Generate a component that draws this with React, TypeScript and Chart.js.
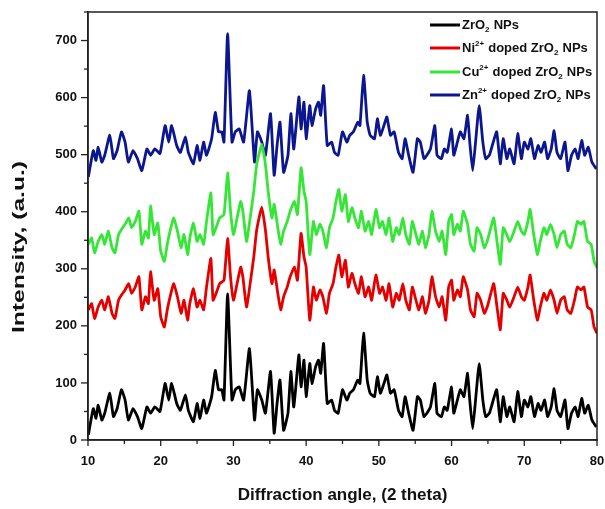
import React, { useEffect, useRef } from 'react';
import { Chart, registerables } from 'chart.js';

Chart.register(...registerables);

// ---- Data ----
const angleA = [
  10.05, 10.73, 11.1, 11.4, 11.9, 12.3, 13.0, 13.5, 14.0, 14.6,
  15.1, 15.55, 16.2, 16.8, 17.4, 18.1, 18.6, 19.2, 19.9, 20.6,
  21.1, 21.5, 22.2, 22.7, 23.4, 23.8, 24.5, 25.0, 25.4, 25.9,
  26.3, 27.0, 27.5, 27.95, 28.4, 28.7, 29.2, 29.8, 30.25, 30.8,
  31.4, 32.2, 32.9, 33.3, 33.9, 34.4, 35.1, 35.6, 36.0, 36.4,
  36.9, 37.5, 37.9, 38.3, 39.0, 39.3, 39.7, 40.0, 40.5, 40.8,
  41.3, 41.7, 42.0, 42.4, 42.9, 43.5, 43.9, 44.4, 45.0, 45.6,
  46.0, 46.5, 47.1, 47.4, 47.9, 48.4, 48.8, 49.4, 49.8, 50.2,
  50.7, 51.1, 51.6, 52.1, 52.7, 53.2, 53.6, 54.1, 54.7, 55.3,
  55.7, 56.2, 56.6, 57.1, 57.7, 58.0, 58.6, 59.0, 59.4, 60.0,
  60.3, 60.8, 61.2, 61.7, 62.2, 62.5, 62.9, 63.3, 63.8, 64.3,
  64.7, 65.2, 65.6, 66.2, 66.7, 67.1, 67.6, 68.0, 68.6, 69.1,
  69.6, 70.0, 70.5, 70.9, 71.4, 71.9, 72.3, 72.8, 73.2, 73.7,
  74.1, 74.5, 75.0, 75.6, 76.0, 76.5, 77.0, 77.4, 77.9, 78.3,
  78.8, 79.3, 79.9,
];

const zrO2 = [
  9, 55, 38, 61, 35, 47, 82, 41, 55, 88,
  70, 35, 55, 41, 20, 58, 47, 58, 50, 99,
  70, 99, 64, 52, 79, 52, 32, 64, 38, 70,
  47, 76, 122, 88, 88, 70, 256, 70, 88, 93,
  70, 160, 35, 88, 70, 47, 120, 12, 64, 105,
  17, 47, 120, 58, 149, 93, 140, 76, 134, 99,
  128, 140, 117, 169, 64, 70, 52, 47, 88, 70,
  82, 88, 105, 99, 187, 105, 82, 76, 111, 82,
  99, 114, 82, 88, 52, 41, 76, 47, 17, 76,
  70, 41, 47, 58, 99, 47, 41, 58, 52, 93,
  47, 70, 88, 76, 117, 70, 20, 70, 134, 70,
  41, 47, 64, 88, 32, 76, 41, 58, 32, 85,
  41, 70, 58, 76, 41, 64, 52, 70, 41, 58,
  90, 52, 41, 70, 20, 47, 58, 41, 73, 47,
  61, 35, 23,
];

const znDoped = [
  461, 507, 490, 513, 487, 499, 534, 493, 507, 540,
  522, 487, 507, 493, 472, 510, 499, 510, 502, 551,
  522, 551, 516, 504, 531, 504, 484, 516, 490, 522,
  499, 528, 574, 540, 540, 522, 712, 522, 540, 545,
  522, 612, 487, 540, 522, 499, 572, 464, 516, 557,
  469, 499, 572, 510, 601, 545, 592, 528, 586, 551,
  580, 592, 569, 621, 516, 522, 504, 499, 540, 522,
  534, 540, 557, 551, 639, 557, 534, 528, 563, 534,
  551, 566, 534, 540, 504, 493, 528, 499, 469, 528,
  522, 493, 499, 510, 551, 499, 493, 510, 504, 545,
  499, 522, 540, 528, 569, 522, 472, 522, 586, 522,
  493, 499, 516, 540, 484, 528, 493, 510, 484, 537,
  493, 522, 510, 528, 493, 516, 504, 522, 493, 510,
  542, 504, 493, 522, 472, 499, 510, 493, 525, 499,
  513, 487, 475,
];

const angleB = [
  10.05, 10.5, 10.9, 11.4, 11.9, 12.3, 12.8, 13.3, 13.7, 14.2,
  14.6, 15.1, 15.6, 16.0, 16.5, 17.0, 17.4, 17.9, 18.3, 18.6,
  19.1, 19.6, 20.0, 20.5, 20.9, 21.4, 21.8, 22.3, 22.8, 23.2,
  23.7, 24.0, 24.5, 25.0, 25.4, 25.9, 26.3, 26.9, 27.2, 27.7,
  28.1, 28.7, 29.2, 29.6, 30.0, 30.5, 31.0, 31.3, 31.8, 32.3,
  32.8, 33.2, 33.9, 34.4, 34.8, 35.3, 35.6, 36.1, 36.5, 36.9,
  37.4, 37.8, 38.4, 38.8, 39.3, 39.7, 40.0, 40.5, 41.0, 41.4,
  41.9, 42.3, 42.8, 43.2, 43.7, 44.1, 44.5, 44.9, 45.4, 45.8,
  46.3, 46.7, 47.2, 47.6, 48.1, 48.6, 49.0, 49.6, 50.1, 50.5,
  51.0, 51.4, 51.9, 52.4, 52.8, 53.3, 53.7, 54.2, 54.6, 55.1,
  55.5, 56.0, 56.4, 56.9, 57.3, 57.8, 58.3, 58.7, 59.2, 59.6,
  60.0, 60.3, 60.8, 61.2, 61.6, 62.2, 62.6, 63.1, 63.5, 64.0,
  64.5, 64.9, 65.4, 65.8, 66.3, 66.7, 67.1, 67.6, 68.0, 68.6,
  69.1, 69.6, 70.0, 70.5, 70.8, 71.3, 71.8, 72.2, 72.7, 73.1,
  73.6, 74.1, 74.5, 75.0, 75.5, 75.9, 76.4, 76.9, 77.3, 77.8,
  78.2, 78.7, 79.2, 79.6, 80.0,
];

const niDoped = [
  228, 239, 213, 233, 245, 228, 251, 222, 213, 245,
  254, 263, 274, 257, 268, 286, 228, 251, 239, 295,
  245, 265, 216, 198, 228, 257, 274, 251, 222, 245,
  210, 239, 265, 233, 245, 228, 268, 318, 245, 260,
  274, 280, 353, 286, 245, 274, 303, 286, 233, 274,
  321, 368, 408, 368, 318, 274, 298, 257, 228, 251,
  268, 286, 303, 280, 362, 321, 303, 210, 268, 245,
  263, 251, 222, 257, 274, 303, 324, 286, 315, 268,
  292, 274, 257, 286, 251, 268, 245, 289, 257, 268,
  245, 274, 233, 257, 245, 274, 245, 228, 268, 245,
  228, 251, 222, 245, 286, 251, 233, 251, 210, 268,
  280, 245, 263, 251, 286, 263, 228, 216, 257, 245,
  222, 233, 257, 274, 228, 193, 257, 245, 233, 251,
  268, 251, 245, 268, 289, 245, 210, 233, 257, 245,
  263, 245, 222, 245, 251, 228, 222, 245, 268, 263,
  268, 233, 228, 198, 187,
];

const cuDoped = [
  343, 354, 328, 348, 360, 343, 366, 337, 328, 360,
  369, 378, 389, 372, 383, 401, 343, 366, 354, 410,
  360, 380, 331, 313, 343, 372, 389, 366, 337, 360,
  325, 354, 380, 348, 360, 343, 383, 433, 360, 375,
  389, 395, 468, 401, 360, 389, 418, 401, 348, 389,
  436, 483, 518, 483, 433, 389, 413, 372, 343, 366,
  383, 401, 418, 395, 477, 436, 418, 325, 383, 360,
  378, 366, 337, 372, 389, 418, 439, 401, 430, 383,
  407, 389, 372, 401, 366, 383, 360, 404, 372, 383,
  360, 389, 348, 372, 360, 389, 360, 343, 383, 360,
  343, 366, 337, 360, 401, 366, 348, 366, 325, 383,
  395, 360, 378, 366, 401, 378, 343, 331, 372, 360,
  337, 348, 372, 389, 343, 308, 372, 360, 348, 366,
  383, 366, 360, 383, 404, 360, 325, 348, 372, 360,
  378, 360, 337, 360, 366, 343, 337, 360, 383, 378,
  383, 348, 343, 313, 302,
];

const seriesLabels = [
  'ZrO₂ NPs',
  'Ni²⁺ doped ZrO₂ NPs',
  'Cu²⁺ doped ZrO₂ NPs',
  'Zn²⁺ doped ZrO₂ NPs',
];
const seriesColors = ['#000000', '#e50000', '#36e636', '#0b168f'];

const xTickLabels = [10, 20, 30, 40, 50, 60, 70, 80];
const yTickLabels = [0, 100, 200, 300, 400, 500, 600, 700];
const xTitle = 'Diffraction angle, (2 theta)';
const yTitle = 'Intensity, (a.u.)';

const FONT = '"Liberation Sans", Arial, Helvetica, sans-serif';

function toPoints(xs: number[], ys: number[]) {
  return xs.map((x, i) => ({ x, y: ys[i] }));
}

function drawRich(ctx: CanvasRenderingContext2D, text: string, x: number, y: number, size: number) {
  const segs: { s: string; kind: 'n' | 'sub' | 'sup' }[] = [];
  for (const ch of text) {
    let kind: 'n' | 'sub' | 'sup' = 'n';
    let s = ch;
    if (ch === '₂') { kind = 'sub'; s = '2'; }
    else if (ch === '²') { kind = 'sup'; s = '2'; }
    else if (ch === '⁺') { kind = 'sup'; s = '+'; }
    const last = segs[segs.length - 1];
    if (last && last.kind === kind) last.s += s;
    else segs.push({ s, kind });
  }
  let cx = x;
  ctx.textBaseline = 'middle';
  ctx.textAlign = 'left';
  for (const seg of segs) {
    const fs = seg.kind === 'n' ? size : Math.round(size * 0.62);
    const dy = seg.kind === 'sub' ? size * 0.38 : seg.kind === 'sup' ? -size * 0.36 : 0;
    ctx.font = `bold ${fs}px ${FONT}`;
    ctx.fillText(seg.s, cx, y + dy);
    cx += ctx.measureText(seg.s).width + (seg.kind === 'n' ? 0 : 0.5);
  }
}

const decorPlugin = {
  id: 'decor',
  afterDraw(chart: any) {
    const { ctx, chartArea: a, scales } = chart;
    ctx.save();
    // frame
    ctx.strokeStyle = '#222';
    ctx.lineWidth = 1.5;
    ctx.strokeRect(a.left, a.top, a.right - a.left, a.bottom - a.top);
    // y ticks
    ctx.lineWidth = 1.3;
    scales.y.ticks.forEach((t: any) => {
      const p = scales.y.getPixelForValue(t.value);
      const len = t.value % 100 === 0 ? 7 : 4;
      ctx.beginPath();
      ctx.moveTo(a.left, p);
      ctx.lineTo(a.left - len, p);
      ctx.stroke();
    });
    // x ticks
    scales.x.ticks.forEach((t: any) => {
      const p = scales.x.getPixelForValue(t.value);
      const len = t.value % 10 === 0 ? 6 : 4;
      ctx.beginPath();
      ctx.moveTo(p, a.bottom);
      ctx.lineTo(p, a.bottom + len);
      ctx.stroke();
    });
    // y title (stretched like the reference)
    ctx.fillStyle = '#111';
    ctx.save();
    ctx.translate(19, 247);
    ctx.rotate(-Math.PI / 2);
    ctx.scale(1.45, 1);
    ctx.font = `bold 17px ${FONT}`;
    ctx.textAlign = 'center';
    ctx.textBaseline = 'middle';
    ctx.fillText(yTitle, 0, 0);
    ctx.restore();
    // legend
    const rows = [25, 48, 72, 95];
    chart.data.datasets.forEach((ds: any, i: number) => {
      const y = rows[i];
      ctx.strokeStyle = ds.borderColor;
      ctx.lineWidth = 3;
      ctx.beginPath();
      ctx.moveTo(430, y);
      ctx.lineTo(460, y);
      ctx.stroke();
      ctx.fillStyle = '#111';
      drawRich(ctx, ds.label, 462, y, 13);
    });
    ctx.restore();
  },
};

export default function App() {
  const ref = useRef<HTMLCanvasElement | null>(null);

  useEffect(() => {
    if (!ref.current) return;
    Chart.defaults.font.family = FONT;
    const chart = new Chart(ref.current, {
      type: 'line',
      data: {
        datasets: [
          { label: seriesLabels[0], data: toPoints(angleA, zrO2), borderColor: seriesColors[0] },
          { label: seriesLabels[1], data: toPoints(angleB, niDoped), borderColor: seriesColors[1] },
          { label: seriesLabels[2], data: toPoints(angleB, cuDoped), borderColor: seriesColors[2] },
          { label: seriesLabels[3], data: toPoints(angleA, znDoped), borderColor: seriesColors[3] },
        ].map((d) => ({
          ...d,
          borderWidth: 2.8,
          pointRadius: 0,
          fill: false,
          tension: 0.15,
          borderJoinStyle: 'round' as const,
        })),
      },
      options: {
        responsive: false,
        animation: false,
        layout: { padding: { top: 12, right: 8, left: 0, bottom: 0 } },
        plugins: {
          legend: { display: false },
          tooltip: { enabled: false },
        },
        scales: {
          x: {
            type: 'linear',
            min: 10,
            max: 80,
            grid: { display: false, drawTicks: false },
            border: { display: true, color: '#222', width: 1.5 },
            ticks: {
              stepSize: 5,
              autoSkip: false,
              maxRotation: 0,
              padding: 14,
              color: '#111',
              font: { size: 13, weight: 'bold' },
              callback: (v: any) => (xTickLabels.includes(Number(v)) ? String(v) : ''),
            },
            title: {
              display: true,
              text: xTitle,
              color: '#111',
              font: { size: 17, weight: 'bold' },
              padding: { top: 0, bottom: 3 },
            },
            afterFit: (s: any) => {
              s.height = 69;
              s.paddingLeft = 0;
              s.paddingRight = 0;
            },
          },
          y: {
            type: 'linear',
            min: 0,
            max: 750,
            grid: { display: false, drawTicks: false },
            border: { display: true, color: '#222', width: 1.5 },
            ticks: {
              stepSize: 50,
              autoSkip: false,
              padding: 11,
              color: '#111',
              font: { size: 13, weight: 'bold' },
              callback: (v: any) => (yTickLabels.includes(Number(v)) ? String(v) : ''),
            },
            afterFit: (s: any) => {
              s.width = 88;
              s.paddingTop = 0;
              s.paddingBottom = 0;
            },
          },
        },
      },
      plugins: [decorPlugin],
    });
    return () => chart.destroy();
  }, []);

  return (
    <div style={{ position: 'absolute', left: 0, top: 0, width: 605, height: 509, background: '#fff' }}>
      <canvas ref={ref} width={605} height={509} style={{ display: 'block' }} />
    </div>
  );
}
